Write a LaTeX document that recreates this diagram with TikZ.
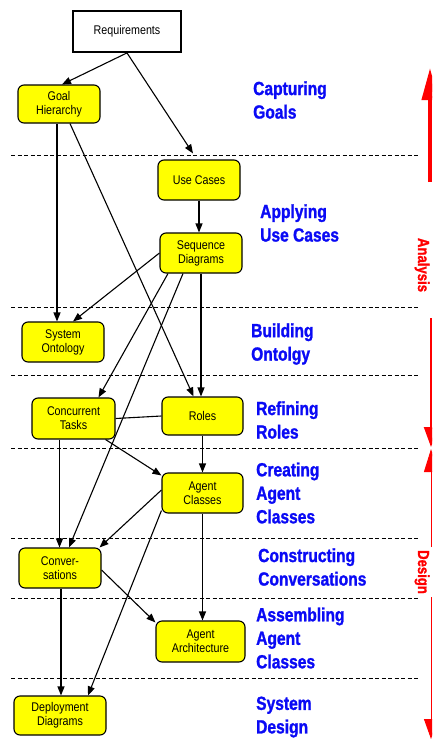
\documentclass[tikz,border=0pt]{standalone}
\usepackage{fontspec}
\setmainfont{Liberation Sans}
\newfontfamily\boxfont[FakeStretch=0.85]{Liberation Sans}
\newfontfamily\phasefont[UprightFont=* Bold, FakeStretch=0.82, FakeBold=1.3]{Liberation Sans}
\usetikzlibrary{arrows.meta}
\definecolor{phaseblue}{RGB}{10,10,245}
\definecolor{stepyellow}{RGB}{255,255,0}
\tikzset{
	activity/.style={draw, line width=1.1pt, fill=stepyellow, rounded corners=6pt, align=center, inner sep=0pt, font=\boxfont\fontsize{12.6}{14}\selectfont},
	flow/.style={-{Triangle[length=9pt,width=7pt]}, line width=1.1pt},
	phase/.style={anchor=west, align=left, inner sep=0pt, text=phaseblue, font=\phasefont\fontsize{19}{23.5}\selectfont},
	stage/.style={text=red, rotate=-90, anchor=base, inner sep=0pt, font=\phasefont\fontsize{16}{16}\selectfont}
}

\begin{document}
\begin{tikzpicture}[x=1pt,y=-1pt]
				\clip (0,0) rectangle (432,740);
				\fill[white] (0,0) rectangle (432,740);
				% phase borders
				\foreach \y in {155, 307, 375, 448, 538, 598, 678}
					\draw[dash pattern=on 4pt off 2.5pt, line width=0.9pt] (11,\y) -- (419,\y);

				% activities
				\node[draw, line width=1.8pt, fill=white, minimum width=108pt, minimum height=41pt, inner sep=0pt, font=\boxfont\fontsize{12.6}{14}\selectfont] (req) at (127,31.5) {Requirements\hspace{8pt}};
				\node[activity, minimum width=82pt, minimum height=38pt] (goal) at (59,104) {Goal\\Hierarchy};
				\node[activity, minimum width=82pt, minimum height=40pt] (usecase) at (199,180) {Use Cases};
				\node[activity, minimum width=82pt, minimum height=40pt] (seq) at (201,253) {Sequence\\Diagrams};
				\node[activity, minimum width=82pt, minimum height=40pt] (onto) at (63,342) {System\\Ontology};
				\node[activity, minimum width=83pt, minimum height=41pt] (tasks) at (73.5,418.5) {Concurrent\\Tasks};
				\node[activity, minimum width=81pt, minimum height=38pt] (roles) at (202.5,416) {Roles};
				\node[activity, minimum width=81pt, minimum height=40pt] (agent) at (202.5,493) {Agent\\Classes};
				\node[activity, minimum width=82pt, minimum height=40pt] (conv) at (60,568) {Conver-\\sations};
				\node[activity, minimum width=89pt, minimum height=41pt] (arch) at (200.5,641.5) {Agent\\Architecture};
				\node[activity, minimum width=92pt, minimum height=39pt] (deploy) at (60,715.5) {Deployment\\Diagrams};

				% flows
				\draw[flow] (req.south) -- ([xshift=3pt]goal.north);
				\draw[flow] (req.south) -- ([xshift=-6pt,yshift=6pt]usecase.north);
				\draw[flow] ([xshift=-2pt]goal.south) -- ([xshift=-2pt]goal.south |- onto.north);
				\draw[flow] ([xshift=11pt]goal.south) -- ([xshift=-9pt]roles.north);
				\draw[flow] (usecase.south) -- (usecase.south |- seq.north);
				\draw[flow] (seq.west) -- ([xshift=10pt]onto.north);
				\draw[flow] ([xshift=-33pt]seq.south) -- ([xshift=25pt]tasks.north);
				\draw[flow] ([xshift=-18pt]seq.south) -- ([xshift=9pt]conv.north);
				\draw[flow] (seq.south) -- (seq.south |- roles.north);
				\draw[line width=1.1pt] (tasks.east) -- (roles.west);
				\draw[flow] (roles.south) -- (agent.north);
				\draw[flow] ([xshift=-10pt]tasks.south east) -- ([yshift=-3pt]agent.north west);
				\draw[flow] ([xshift=-14pt]tasks.south) -- ([xshift=-14pt]tasks.south |- conv.north);
				\draw[flow] ([yshift=3pt]agent.west) -- ([xshift=-2pt]conv.north east);
				\draw[flow] ([yshift=3pt]agent.south west) -- ([xshift=28pt]deploy.north);
				\draw[flow] (agent.south) -- (agent.south |- arch.north);
				\draw[flow] ([yshift=-2pt]conv.east) -- ([yshift=-2pt]arch.north west);
				\draw[flow] ([xshift=1pt]conv.south) -- ([xshift=1pt]conv.south |- deploy.north);

				% phases
				\node[phase] (capture) at (253,100) {Capturing\\Goals};
				\node[phase] (apply) at (260,223) {Applying\\Use Cases};
				\node[phase] (build) at (251,344) {Building\\Ontolgy};
				\node[phase] (refine) at (256,420) {Refining\\Roles};
				\node[phase] (create) at (256,493) {Creating\\Agent\\Classes};
				\node[phase] (construct) at (258,567) {Constructing\\Conversations};
				\node[phase] (assemble) at (256,638) {Assembling\\Agent\\Classes};
				\node[phase] (sysdesign) at (256,717) {System\\Design};

				% analysis and design spans
				\node[stage] (analysis) at (418,265) {Analysis};
				\node[stage] (design) at (418,572) {Design};
				\coordinate (an1) at (430,182);
				\coordinate (an2) at (430,68);
				\coordinate (an3) at (431,318);
				\coordinate (an4) at (431,447);
				\coordinate (de1) at (431,547);
				\coordinate (de2) at (431,449);
				\coordinate (de3) at (431,597);
				\coordinate (de4) at (431,739);
				\draw[red, line width=4pt, -{Triangle[length=32pt,width=16pt]}] (an1) -- (an2);
				\draw[red, line width=2pt, -{Triangle[length=20pt,width=14pt]}] (an3) -- (an4);
				\draw[red, line width=1pt, -{Triangle[length=23pt,width=14pt]}] (de1) -- (de2);
				\draw[red, line width=1pt, -{Triangle[length=20pt,width=14pt]}] (de3) -- (de4);
			\end{tikzpicture}
\end{document}
